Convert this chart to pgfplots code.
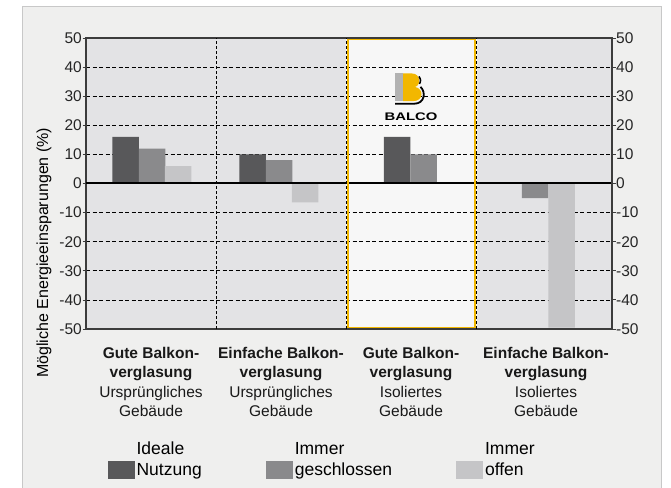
\documentclass[border=0pt]{standalone}
\usepackage{pgfplots}
\pgfplotsset{compat=1.18}
\usepackage{fontspec}
\setmainfont{Liberation Sans}
\definecolor{c1}{HTML}{58585A}
\definecolor{c2}{HTML}{8A8A8C}
\definecolor{c3}{HTML}{C5C5C7}
\definecolor{plotbg}{HTML}{E3E3E5}
\definecolor{hl}{HTML}{F7F7F7}
\definecolor{panel}{HTML}{EFEFEE}
\definecolor{panelborder}{HTML}{C8C8C8}
\definecolor{balcoyellow}{HTML}{F2B700}
\definecolor{framec}{HTML}{3C3C3C}
\pgfplotsset{
  mybar/.style={ybar, bar width=26.5, bar shift=0pt, draw=none, fill=#1,
    legend image code/.code={\fill[fill=#1] (0pt,-20pt) rectangle (27pt,-2pt);}},
}
\begin{document}
\begin{tikzpicture}
\useasboundingbox (0,0) rectangle (671pt,487pt);
\fill[panel] (22.5pt,-10pt) rectangle (661pt,480pt);
\draw[panelborder, line width=1pt] (22.5pt,-10pt) -- (22.5pt,480pt) -- (661pt,480pt) -- (661pt,-10pt);
\begin{axis}[
  scale only axis, width=526pt, height=291pt,
  at={(86pt,158pt)}, anchor=south west,
  xmin=86, xmax=612, ymin=-50, ymax=50,
  axis background/.style={fill=plotbg,
    path picture={\fill[hl] ([xshift=260pt]path picture bounding box.south west) rectangle ([xshift=390.5pt]path picture bounding box.north west);}},
  axis line style={line width=1.3pt, color=framec},
  ytick={-50,-40,...,50},
  yticklabels={-50,-40,-30,-20,-10,0,10,20,30,40,50},
  ytick pos=left, tick align=outside, major tick length=3.5pt,
  y tick style={color=framec, line width=0.8pt},
  yticklabel style={inner sep=0.5pt, font=\fontsize{15.5}{17}\selectfont, text=black!85},
  ymajorgrids, grid style={black, line width=0.8pt, dash pattern=on 4pt off 2.5pt},
  xtick={151,281,411,546},
  xticklabels={{\textbf{Gute Balkon-}\\\textbf{verglasung}\\Ursprüngliches\\Gebäude},{\textbf{Einfache Balkon-}\\\textbf{verglasung}\\Ursprüngliches\\Gebäude},{\textbf{Gute Balkon-}\\\textbf{verglasung}\\Isoliertes\\Gebäude},{\textbf{Einfache Balkon-}\\\textbf{verglasung}\\Isoliertes\\Gebäude}},
  x tick style={draw=none},
  xticklabel style={align=center, font=\fontsize{15.5}{19.2}\selectfont, yshift=-11.5pt, text=black!90},
  extra x ticks={216,346,476.5},
  extra x tick labels={,,},
  extra x tick style={grid=major, major grid style={black, line width=0.8pt, dash pattern=on 3pt off 2pt}, tick style={draw=none}},
  ylabel={Mögliche Energieeinsparungen (\%)},
  ylabel style={at={(axis description cs:-0.08,0.262)}, anchor=center, font=\fontsize{16}{19}\selectfont},
  legend columns=3,
  legend style={at={(axis description cs:0.035,-0.373)}, anchor=north west, draw=none, fill=none,
    font=\fontsize{17.5}{21}\selectfont, cells={align=left},
    /tikz/every even column/.append style={column sep=62pt}},
]
\addplot[mybar=c1] coordinates {(125.5,16) (252.5,10) (397,16)};
\addlegendentry{Ideale\\Nutzung}
\addplot[mybar=c2] coordinates {(152,12) (279,8) (423.5,10) (535,-5)};
\addlegendentry{Immer\\geschlossen}
\addplot[mybar=c3] coordinates {(178,6) (305,-6.5) (561.5,-49.5)};
\addlegendentry{Immer\\offen}
\draw[black, line width=2pt] (axis cs:86,0) -- (axis cs:612,0);
\draw[balcoyellow, line width=1.5pt] (axis cs:347.8,-49.5) rectangle (axis cs:475,49.4);
% logo
\fill[black!30] (axis cs:395,37.8) rectangle (axis cs:402.5,28.3);
\fill[balcoyellow] (axis cs:403,37.8) -- (axis cs:412,37.8) .. controls (axis cs:421,37.8) and (axis cs:421,33.6) .. (axis cs:415,33.2) .. controls (axis cs:424,32.6) and (axis cs:424,28.3) .. (axis cs:413,28.3) -- (axis cs:403,28.3) -- cycle;
\draw[black, line width=1.8pt] (axis cs:395,27.4) -- (axis cs:414,27.4) .. controls (axis cs:425,27.4) and (axis cs:426,31.5) .. (axis cs:420.5,33.2);
\draw[black, line width=1.5pt] (axis cs:419,36.8) .. controls (axis cs:421,35.5) .. (axis cs:419.5,34.2);
\node[font=\bfseries\fontsize{11}{12}\selectfont, xscale=1.35] at (axis cs:411,23) {BALCO};
\end{axis}
\begin{axis}[
  scale only axis, width=526pt, height=291pt,
  at={(86pt,158pt)}, anchor=south west,
  xmin=86, xmax=612, ymin=-50, ymax=50,
  axis x line=none, axis y line*=right,
  axis line style={line width=1.3pt, color=framec},
  ytick={-50,-40,...,50},
  yticklabels={-50,-40,-30,-20,-10,0,10,20,30,40,50},
  tick align=outside, major tick length=3.5pt,
  y tick style={color=framec, line width=0.8pt},
  yticklabel style={inner sep=0.5pt, font=\fontsize{15.5}{17}\selectfont, text=black!85},
]
\end{axis}
\end{tikzpicture}
\end{document}
